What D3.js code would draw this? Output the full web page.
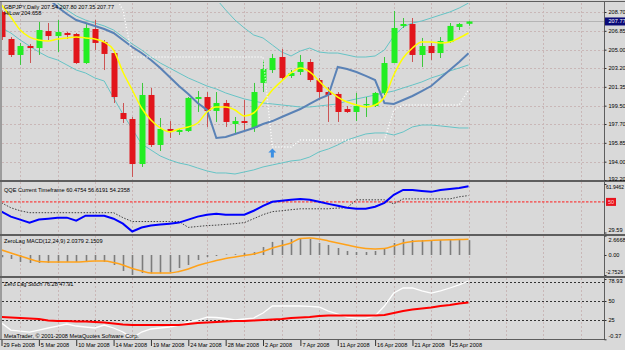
<!DOCTYPE html>
<html>
<head>
<meta charset="utf-8">
<script src="https://cdnjs.cloudflare.com/ajax/libs/d3/7.8.5/d3.min.js"></script>
<style>
body{margin:0;background:#d9d9d9;overflow:hidden}
svg{display:block}
text{font-family:"Liberation Sans",Arial,sans-serif;font-size:5.6px;fill:#000}
</style>
</head>
<body>
<svg id="chart" width="625" height="350"></svg>
<script>
// GBPJPY daily, 29 Feb - 28 Apr 2008 (MT4 daily bars incl. sunday bars)
const barDates = ["2008.02.29","2008.03.02","2008.03.03","2008.03.04","2008.03.05","2008.03.06","2008.03.07","2008.03.09","2008.03.10","2008.03.11","2008.03.12","2008.03.13","2008.03.14","2008.03.16","2008.03.17","2008.03.18","2008.03.19","2008.03.20","2008.03.21","2008.03.23","2008.03.24","2008.03.25","2008.03.26","2008.03.27","2008.03.28","2008.03.30","2008.03.31","2008.04.01","2008.04.02","2008.04.03","2008.04.04","2008.04.06","2008.04.07","2008.04.08","2008.04.09","2008.04.10","2008.04.11","2008.04.13","2008.04.14","2008.04.15","2008.04.16","2008.04.17","2008.04.18","2008.04.20","2008.04.21","2008.04.22","2008.04.23","2008.04.24","2008.04.25","2008.04.27","2008.04.28"]

const open  = [208.70,206.05,204.48,205.36,205.16,206.83,206.34,206.64,206.54,203.69,207.03,205.75,204.67,198.78,198.19,193.77,200.55,195.64,197.21,196.92,197.01,200.16,200.35,198.98,199.76,197.70,197.99,197.31,201.73,203.00,204.28,202.42,202.81,203.79,202.02,200.84,200.65,199.17,198.88,199.57,199.47,200.75,203.69,207.33,207.52,204.48,205.36,204.67,205.75,207.23,207.54]
const high  = [208.85,206.24,205.66,205.56,207.72,207.62,207.91,206.74,206.64,207.62,207.91,205.95,204.97,199.76,198.39,201.73,201.24,198.29,197.99,197.21,200.35,200.94,200.84,200.84,200.06,198.39,200.06,201.73,203.99,204.58,205.07,203.00,204.48,204.08,202.22,201.33,200.84,199.47,200.75,200.35,200.84,204.28,208.80,208.11,208.11,206.15,205.66,206.24,207.62,207.62,207.80]
const low   = [205.95,204.28,203.50,203.69,204.48,205.95,204.77,206.05,203.60,203.60,204.97,203.00,199.76,197.80,192.50,193.48,195.44,195.05,196.33,196.62,196.92,198.88,197.41,197.90,197.41,196.82,197.11,196.92,200.84,202.71,202.02,202.22,202.52,201.83,200.06,197.90,197.90,198.78,197.99,198.39,199.37,200.55,203.69,207.13,203.79,203.30,203.99,204.18,205.66,206.93,207.35]
const close = [206.24,204.48,205.36,205.16,206.93,206.34,206.74,206.44,203.69,207.13,205.66,204.58,200.35,198.19,193.77,200.55,195.64,197.21,197.01,197.11,200.26,200.35,198.98,199.76,197.90,197.99,197.80,200.84,203.10,204.18,202.22,202.71,203.79,202.02,200.84,200.55,198.88,198.88,199.47,199.66,200.75,203.69,207.13,207.52,204.48,205.36,204.67,205.85,207.33,207.52,207.77]

const maYellow = [209.39,208.21,206.93,206.24,205.95,205.85,206.05,206.15,206.24,206.15,206.05,205.75,204.97,202.81,201.04,199.27,198.09,197.31,196.92,197.21,197.41,197.80,198.88,199.37,199.37,199.08,198.49,198.78,199.86,201.04,201.92,202.71,203.20,202.81,201.92,201.04,200.35,199.86,199.57,199.37,199.57,200.35,202.51,204.18,205.16,205.75,205.75,205.66,205.75,206.15,206.64]
const hiLow = [212.0,211.6,211.2,210.8,210.5,210.07,209.19,208.50,207.91,207.62,207.33,207.03,206.64,205.95,205.26,204.67,203.99,203.20,202.32,201.43,200.65,199.76,199.08,196.33,196.43,196.72,197.01,197.31,197.70,197.99,198.39,198.78,199.17,199.67,200.16,200.55,203.30,203.10,202.81,202.42,202.02,199.76,199.67,200.06,200.45,200.94,201.43,202.22,203.00,203.79,204.658]
const bbUpper = [null,null,null,null,null,null,null,null,null,null,null,null,null,null,null,null,null,null,null,null,null,212.30,210.86,209.98,208.90,207.91,207.13,206.44,206.15,205.46,204.77,204.38,204.87,205.16,204.77,204.67,204.67,204.48,204.28,204.28,204.38,204.97,206.34,207.23,207.62,207.82,208.11,208.41,208.70,209.09,209.58]
const bbMiddle = [213.5,213.0,212.4,211.9,211.35,210.37,209.58,208.90,208.31,207.91,207.62,207.33,206.93,206.24,205.56,204.97,204.28,203.69,203.20,202.71,202.22,201.83,201.43,201.14,200.75,200.45,200.16,199.96,199.76,199.67,199.57,199.47,199.37,199.37,199.47,199.57,199.67,199.96,200.16,200.35,200.55,200.75,200.94,201.24,201.53,201.83,202.22,202.51,202.91,203.20,203.50]
const bbLower = [207.13,206.64,205.95,205.36,204.77,204.28,203.99,203.50,203.00,202.71,202.22,201.92,200.26,198.68,197.21,195.74,195.15,194.56,194.17,193.87,193.68,193.38,193.09,192.89,192.89,192.79,192.99,193.19,193.48,193.68,193.87,194.07,194.17,194.46,194.96,195.25,195.64,196.13,196.43,196.72,196.82,196.82,196.62,196.92,197.41,197.60,197.60,197.51,197.41,197.31,197.31]
const trailStop = [null,null,null,null,null,null,null,null,null,null,null,null,210.50,208.90,204.28,204.28,204.28,204.28,204.28,204.28,204.28,204.28,204.28,204.28,204.28,204.28,204.28,204.28,204.28,195.44,195.44,195.44,196.13,196.13,196.13,196.13,196.13,196.13,196.13,196.13,196.13,196.13,199.08,199.57,199.57,199.57,199.57,199.57,199.57,199.57,201.04]
const arrowBars = [29]
const arrowPrices = [195.3]

const qqeFast = [43.46,40.16,38.17,36.2,38.2,38.8,39.5,39.5,37.5,40.8,40.8,40.8,38.8,35.5,30.25,32.9,34.2,34.9,35.5,36.2,38.2,40.2,41.5,42.1,41.5,41.5,41.5,44.1,47.4,50.1,50.7,51.4,52.0,51.4,50.1,48.7,47.4,46.1,45.4,45.4,46.8,49.4,54.7,58.0,58.0,57.3,56.7,58.0,58.6,59.3,60.4754]
const qqeSlow = [49.4,46.1,44.1,42.8,42.8,42.8,42.8,42.8,42.8,42.8,42.8,42.8,42.8,39.5,36.9,36.9,36.9,36.9,36.9,36.9,33.0,33.6,34.2,34.5,35.0,35.5,36.2,38.8,41.5,43.5,44.1,44.8,45.4,45.4,45.4,45.4,45.9,46.1,51.4,51.4,51.4,51.4,48.7,52.0,52.0,52.0,52.0,52.0,52.0,53.4,54.2358]

const macdHist = [-0.3,-0.55,-0.96,-1.1,-1.1,-1.1,-1.1,-0.96,-0.96,-0.83,-0.69,-0.96,-1.38,-2.2,-2.75,-2.48,-2.54,-2.54,-2.34,-1.79,-1.38,-0.69,-0.28,-0.14,0.07,0.1,0.28,0.4,1.1,1.8,2.06,2.2,2.34,2.2,1.65,1.38,0.96,0.55,0.41,0.41,0.55,0.96,1.65,2.2,2.06,2.06,2.06,2.06,2.06,2.06,2.0379]
const macdSignal = [0.69,0.28,-0.14,-0.55,-0.9,-0.96,-0.96,-0.96,-0.96,-0.9,-0.83,-0.83,-1.03,-1.38,-1.86,-2.2,-2.48,-2.48,-2.48,-2.27,-1.93,-1.44,-1.1,-0.76,-0.48,-0.28,-0.07,0.14,0.48,0.96,1.31,1.65,2.27,2.34,2.2,1.93,1.65,1.38,1.1,0.89,0.83,0.89,1.24,1.65,1.86,1.93,2.0,2.06,2.1,2.13,2.1509]

const stochMain = [21.1,11.8,10.5,9.2,11.8,14.5,17.1,19.7,17.1,15.8,14.5,18.4,14.5,9.2,1.3,9.2,13.2,14.5,15.8,18.4,22.4,25,28.9,28.3,27,25,26.3,27.6,34.2,43.4,43.4,43.4,43.4,42.8,42.1,36.8,32.9,28.9,27.6,27.6,30.3,43.4,60.5,67.1,67.1,63.2,60.5,63.2,67.1,71.1,76.28]
const stochSignal = [29,28.3,27.6,27,26.3,24.3,23.7,23.7,23,23,22.4,21.7,20.4,19.1,18.4,18.4,18.4,18.4,18.4,18.4,19.7,21.1,21.7,22.4,23,23.7,23.7,24.3,25,25.7,26.3,27.6,28.3,29,30.3,30.9,30.9,30.9,30.9,30.9,30.9,31.6,34.2,36.8,38.8,40.1,41.4,43.4,44.7,46.7,47.91]

const priceTicks = [208.70,206.85,205.00,203.20,201.35,199.50,197.70,195.85,194.00,192.20]
const qqeTicks = [61.9462,29.59]
const macdTicks = [2.6668,0,-2.7526]
const stochTicks = [78.93,50,25,-0.37]
const stochLevels = [75,50,25]

const lastPrice = 207.77
const title = 'GBPJPY,Daily  207.54 207.80 207.35 207.77'
const hiLowTitle = 'HiLow 204.658'

const svg = d3.select('#chart')
svg.append('rect').attr('width',625).attr('height',350).attr('fill','#d9d9d9')

// scales
const x = d3.scaleLinear().domain([0, barDates.length-1]).range([1.5, 468.5])
const yP = d3.scaleLinear().domain([192.20, 208.70]).range([180, 12])
const yQ = d3.scaleLinear().domain([29.59, 61.9462]).range([232.5, 184])
const yM = d3.scaleLinear().domain([-2.7526, 2.6668]).range([275, 235.6])
const yS = d3.scaleLinear().domain([-0.37, 78.93]).range([339.3, 279])

const panels = {main:[3,180], qqe:[182,234], macd:[236,276], stoch:[278,339]}
const defs = svg.append('defs')
Object.entries(panels).forEach(([k,[t,b]]) => {
  defs.append('clipPath').attr('id','clip-'+k)
    .append('rect').attr('x',2).attr('y',t).attr('width',602).attr('height',b-t)
})

// grid
const gridBars = d3.range(2, 64, 4)
Object.entries(panels).forEach(([k,[t,b]]) => {
  svg.append('g').selectAll('line').data(gridBars).join('line')
    .attr('x1', d => Math.round(x(d))+0.5).attr('x2', d => Math.round(x(d))+0.5)
    .attr('y1', t).attr('y2', b)
    .attr('stroke','#c9b7b7').attr('stroke-dasharray','2,2')
})
svg.append('g').selectAll('line').data(priceTicks.slice(0,-1)).join('line')
  .attr('x1',2).attr('x2',604)
  .attr('y1', d => Math.round(yP(d))+0.5).attr('y2', d => Math.round(yP(d))+0.5)
  .attr('stroke','#c9b7b7').attr('stroke-dasharray','2,2')

const line = scale => d3.line().defined(d => d != null).x((d,i) => x(i)).y(d => scale(d))
const bars = d3.range(barDates.length)

// ---- main panel
const gMain = svg.append('g').attr('clip-path','url(#clip-main)')
gMain.append('line').attr('x1',2).attr('x2',604)
  .attr('y1', Math.round(yP(lastPrice))+0.5).attr('y2', Math.round(yP(lastPrice))+0.5)
  .attr('stroke','#b4b4b4')

;[bbUpper, bbMiddle, bbLower].forEach(arr => {
  gMain.append('path').datum(arr).attr('d', line(yP))
    .attr('fill','none').attr('stroke','#66c4c6').attr('stroke-width',1)
})

const up = i => close[i] >= open[i]
gMain.selectAll('.wick').data(bars).join('line').attr('class','wick')
  .attr('x1', i => Math.round(x(i))+0.5).attr('x2', i => Math.round(x(i))+0.5)
  .attr('y1', i => yP(high[i])).attr('y2', i => yP(low[i]))
  .attr('stroke', i => up(i) ? '#3cc83c' : '#cc5454')
gMain.selectAll('.body').data(bars).join('rect').attr('class','body')
  .attr('x', i => Math.round(x(i))-2.5).attr('width', 6)
  .attr('y', i => yP(Math.max(open[i], close[i])))
  .attr('height', i => Math.max(1.2, Math.abs(yP(open[i]) - yP(close[i]))))
  .attr('fill', i => up(i) ? '#22ee22' : '#e2151b')

gMain.append('path').datum(hiLow).attr('d', line(yP))
  .attr('fill','none').attr('stroke','#5a82b6').attr('stroke-width',2)
gMain.append('path').datum(maYellow).attr('d', line(yP).curve(d3.curveMonotoneX))
  .attr('fill','none').attr('stroke','#ffff00').attr('stroke-width',1.5)
gMain.append('path').datum(trailStop).attr('d', line(yP))
  .attr('fill','none').attr('stroke','#ffffff').attr('stroke-width',1.4).attr('stroke-dasharray','1,2')

gMain.selectAll('.arrow').data(arrowBars).join('path').attr('class','arrow')
  .attr('transform', (d,k) => `translate(${x(d)},${yP(arrowPrices[k])})`)
  .attr('d','M0,0 L4,4 L1.5,4 L1.5,9 L-1.5,9 L-1.5,4 L-4,4 Z')
  .attr('fill','#3b8fe2')

// ---- QQE
const gQ = svg.append('g').attr('clip-path','url(#clip-qqe)')
gQ.append('line').attr('x1',2).attr('x2',604).attr('y1',yQ(50)).attr('y2',yQ(50))
  .attr('stroke','#ff1a1a').attr('stroke-dasharray','2.5,1.5')
gQ.append('path').datum(qqeSlow).attr('d', line(yQ))
  .attr('fill','none').attr('stroke','#303030').attr('stroke-width',0.9).attr('stroke-dasharray','1.5,1.5')
gQ.append('path').datum(qqeFast).attr('d', line(yQ))
  .attr('fill','none').attr('stroke','#0000ff').attr('stroke-width',2)

// ---- MACD
const gM = svg.append('g').attr('clip-path','url(#clip-macd)')
gM.selectAll('.hist').data(bars).join('line').attr('class','hist')
  .attr('x1', i => Math.round(x(i))+0.5).attr('x2', i => Math.round(x(i))+0.5)
  .attr('y1', yM(0)).attr('y2', i => yM(macdHist[i]))
  .attr('stroke','#7c7c7c').attr('stroke-width',1.6)
gM.append('path').datum(macdSignal).attr('d', line(yM).curve(d3.curveMonotoneX))
  .attr('fill','none').attr('stroke','#ffa21a').attr('stroke-width',1.5)

// ---- Stoch
const gS = svg.append('g').attr('clip-path','url(#clip-stoch)')
gS.selectAll('.lvl').data(stochLevels).join('line').attr('class','lvl')
  .attr('x1',2).attr('x2',604)
  .attr('y1', d => Math.round(yS(d))+0.5).attr('y2', d => Math.round(yS(d))+0.5)
  .attr('stroke','#333').attr('stroke-dasharray','2,2')
gS.append('path').datum(stochMain).attr('d', line(yS))
  .attr('fill','none').attr('stroke','#ffffff').attr('stroke-width',1.3)
gS.append('path').datum(stochSignal).attr('d', line(yS))
  .attr('fill','none').attr('stroke','#ff0000').attr('stroke-width',2)

// ---- frames
const frame = svg.append('g').attr('stroke','#5e5e5e')
frame.append('line').attr('x1',0).attr('x2',625).attr('y1',1.5).attr('y2',1.5)
frame.append('line').attr('x1',1).attr('x2',1).attr('y1',1).attr('y2',340)
frame.append('line').attr('x1',604.5).attr('x2',604.5).attr('y1',1).attr('y2',340)
;[181, 235, 277].forEach(yy => {
  frame.append('line').attr('x1',0).attr('x2',625).attr('y1',yy).attr('y2',yy).attr('stroke-width',2)
})
frame.append('line').attr('x1',0).attr('x2',604.5).attr('y1',339.5).attr('y2',339.5)

// ---- axes
function rightAxis(scale, values, fmt, shift){
  const g = svg.append('g').attr('transform','translate(604.5,0)')
    .call(d3.axisRight(scale).tickValues(values).tickFormat(fmt).tickSize(2).tickPadding(2))
  g.select('.domain').remove()
  g.selectAll('.tick line').attr('stroke','#333')
  g.selectAll('.tick text').attr('y', d => shift ? shift(d) : 0)
  // long labels must fit in the 20px strip
  g.selectAll('.tick text').filter(function(){ return this.textContent.length > 6 })
    .attr('x', 1.5).style('font-size','5px')
  return g
}
rightAxis(yP, priceTicks, d3.format('.2f'), d => d === 192.20 ? -1 : 0)
rightAxis(yQ, qqeTicks, d => String(d), d => d === 61.9462 ? 3 : -2.5)
rightAxis(yM, macdTicks, d => d === 0 ? '0.00' : String(d), d => d > 0 ? 4.4 : (d < 0 ? -3 : 0))
rightAxis(yS, stochTicks, d => String(d), d => d === 78.93 ? 2 : (d < 0 ? -4 : 0))

// current price box
svg.append('rect').attr('x',605).attr('y',yP(lastPrice)-4).attr('width',20).attr('height',8).attr('fill','#0a0a78')
svg.append('text').attr('x',608.5).attr('y',yP(lastPrice)).attr('dy','0.34em')
  .style('fill','#ffffff').text(d3.format('.2f')(lastPrice))
// qqe level box
svg.append('rect').attr('x',606).attr('y',yQ(50)-4).attr('width',10).attr('height',8).attr('fill','#e8141e')
svg.append('text').attr('x',608).attr('y',yQ(50)).attr('dy','0.34em')
  .style('fill','#ffd0d0').text('50')

// date axis
const parseDate = d3.timeParse('%Y.%m.%d'), fmtDate = d3.timeFormat('%-d %b %Y')
const dateTicks = bars.filter(i => i % 4 === 0)
const gx = svg.append('g').attr('transform','translate(0,340)')
  .call(d3.axisBottom(x).tickValues(dateTicks).tickFormat(i => fmtDate(parseDate(barDates[i]))).tickSize(6).tickSizeOuter(0))
gx.select('.domain').remove()
gx.selectAll('.tick line').attr('stroke','#333')
gx.selectAll('.tick text').attr('x',1.5).attr('y',3).attr('dy','0.71em').attr('text-anchor','start')

// titles
svg.append('text').attr('x',4).attr('y',8.5).text(title)
svg.append('text').attr('x',4).attr('y',14.8).text(hiLowTitle)
svg.append('text').attr('x',4).attr('y',191.5).text('QQE Current Timeframe 60.4754 56.6191 54.2358')
svg.append('text').attr('x',4).attr('y',243).text('ZeroLag MACD(12,24,9) 2.0379 2.1509')
svg.append('text').attr('x',4).attr('y',285.7).text('Zero Lag Stoch 76.28 47.91')
svg.append('text').attr('x',4).attr('y',337.5).text('MetaTrader, © 2001-2008 MetaQuotes Software Corp.')
</script>
</body>
</html>
